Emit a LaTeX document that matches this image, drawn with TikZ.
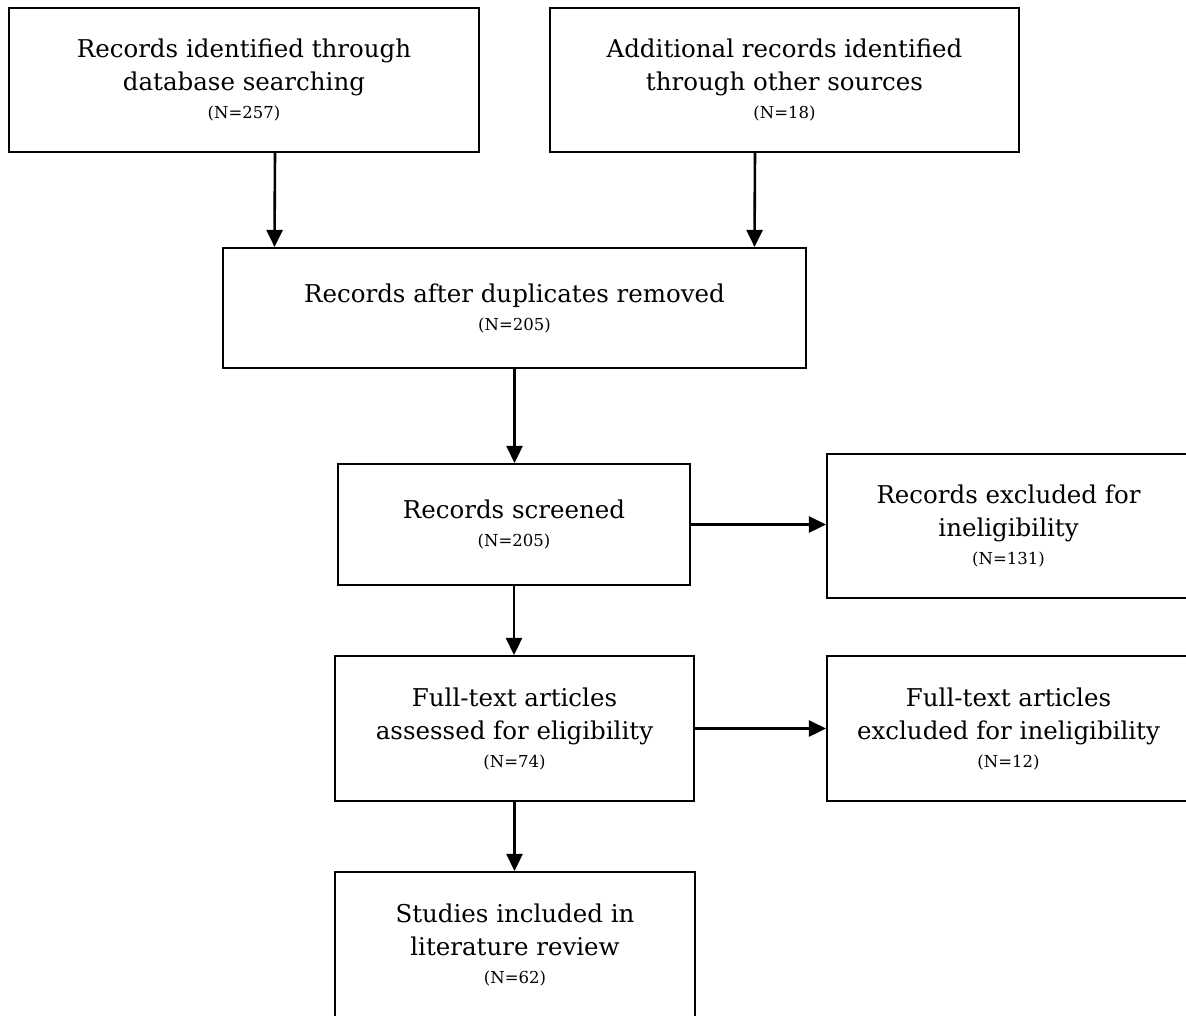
\documentclass[tikz,border=0pt]{standalone}
\usepackage{fontspec}
\setmainfont{DejaVu Serif}
\usepackage{tikz}
\usetikzlibrary{arrows.meta}

\newcommand{\grand}{\fontsize{24.5}{33}\selectfont}
\newcommand{\petit}{\fontsize{16.5}{18}\selectfont}
\tikzset{
    boite/.style={draw, line width=2.1pt, rectangle, align=center, font=\grand, inner sep=0pt},
    fleche/.style={line width=2.6pt, -{Triangle[length=17pt,width=16pt]}}
}

\begin{document}
\begin{tikzpicture}[x=1pt,y=-1pt]
                \useasboundingbox (0,0) rectangle (1186,1015);

                % Dessiner les boites
                \node[boite, minimum width=470pt, minimum height=144pt] (ident) at (244,80)
                    {Records identified through\\database searching\\[-5pt]{\petit (N=257)}};
                \node[boite, minimum width=469pt, minimum height=144pt] (autres) at (784.5,80)
                    {Additional records identified\\through other sources\\[-5pt]{\petit (N=18)}};
                \node[boite, minimum width=583pt, minimum height=120pt] (doublons) at (514.5,308)
                    {Records after duplicates removed\\[-5pt]{\petit (N=205)}};
                \node[boite, minimum width=352pt, minimum height=121pt] (tri) at (514,524.5)
                    {Records screened\\[-5pt]{\petit (N=205)}};
                \node[boite, minimum width=363pt, minimum height=144pt] (exclus) at (1008.5,526)
                    {Records excluded for\\ineligibility\\[-5pt]{\petit (N=131)}};
                \node[boite, minimum width=359pt, minimum height=145pt] (texte) at (514.5,728.5)
                    {Full-text articles\\assessed for eligibility\\[-5pt]{\petit (N=74)}};
                \node[boite, minimum width=363pt, minimum height=145pt] (texteexclus) at (1008.5,728.5)
                    {Full-text articles\\excluded for ineligibility\\[-5pt]{\petit (N=12)}};
                \node[boite, minimum width=360pt, minimum height=146pt] (inclus) at (515,945)
                    {Studies included in\\literature review\\[-5pt]{\petit (N=62)}};

                % Ajouter les fleches
                \draw[fleche] ([xshift=31pt]ident.south) -- ([xshift=-240pt]doublons.north);
                \draw[fleche] ([xshift=-29.5pt]autres.south) -- ([xshift=240pt]doublons.north);
                \draw[fleche] (doublons.south) -- (doublons.south |- tri.north);
                \draw[fleche] (tri.east) -- (tri.east -| exclus.west);
                \draw[fleche] (tri.south) -- (tri.south |- texte.north);
                \draw[fleche] (texte.east) -- (texte.east -| texteexclus.west);
                \draw[fleche] (texte.south) -- (texte.south |- inclus.north);
\end{tikzpicture}
\end{document}
